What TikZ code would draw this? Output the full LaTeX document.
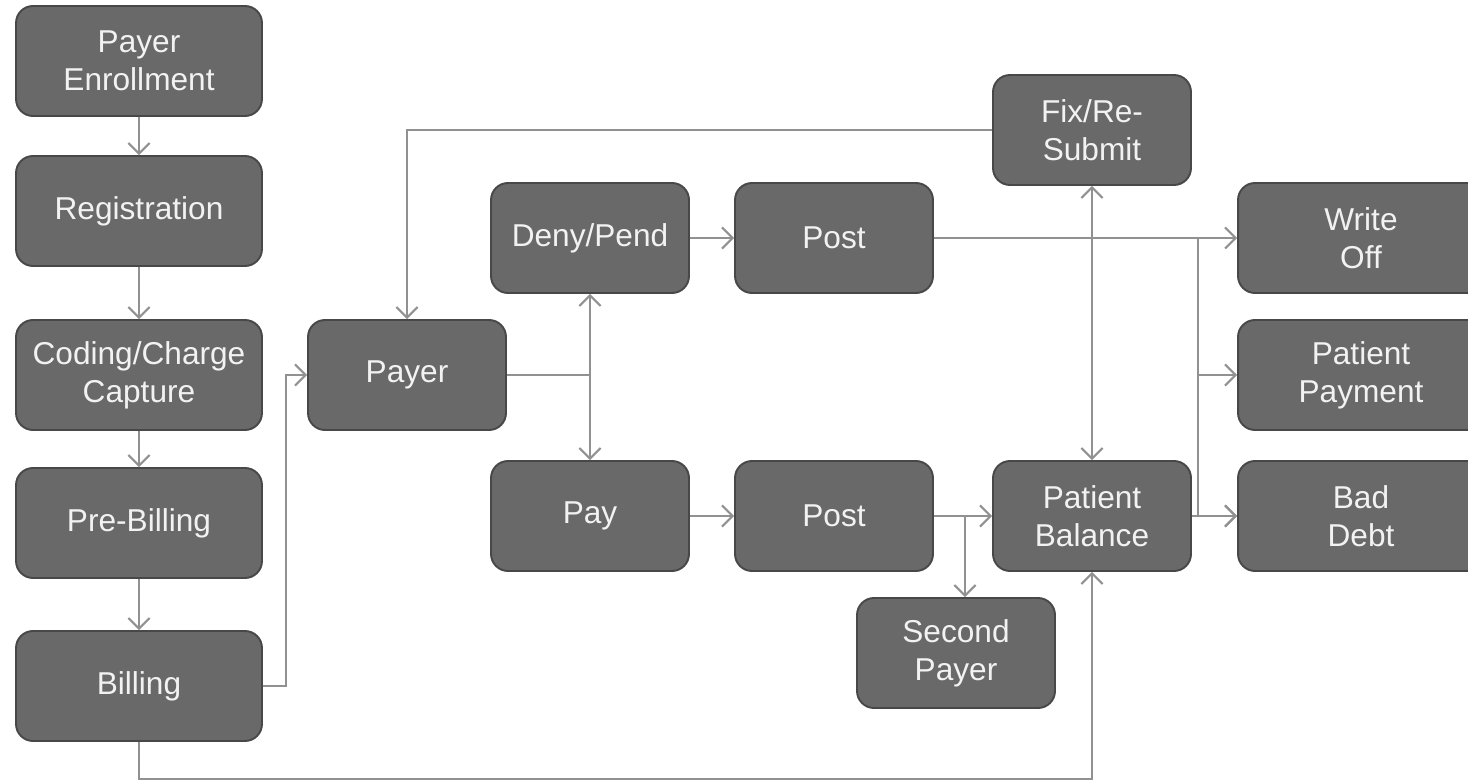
\documentclass[tikz,border=0pt]{standalone}
\usepackage{fontspec}
\setmainfont{Liberation Sans}
\usetikzlibrary{arrows.meta}
\definecolor{boxfill}{RGB}{105,105,105}
\definecolor{boxedge}{RGB}{72,72,72}
\definecolor{boxtext}{RGB}{242,242,242}
\definecolor{linegray}{RGB}{145,145,145}

\begin{document}
\begin{tikzpicture}[x=0.02cm, y=-0.02cm,
        box/.style={draw=boxedge, fill=boxfill, text=boxtext, line width=1.1pt,
            rounded corners=0.34cm, minimum width=3.96cm, minimum height=2.2cm,
            align=center, font=\fontsize{18}{21.5}\selectfont},
        wide/.style={box, minimum width=4.92cm},
        link/.style={draw=linegray, line width=1.2pt},
        >={Straight Barb[length=6pt,width=12pt]}]
        \useasboundingbox (0,0) rectangle (1468,783);

        \node[wide] (enroll)  at (139, 61)  {Payer\\Enrollment};
        \node[wide] (reg)     at (139, 211) {Registration};
        \node[wide] (coding)  at (139, 375) {Coding/Charge\\Capture};
        \node[wide] (prebill) at (139, 523) {Pre-Billing};
        \node[wide] (billing) at (139, 686) {Billing};

        \node[box] (payer)  at (407, 375)  {Payer};
        \node[box] (deny)   at (590, 238)  {Deny/Pend};
        \node[box] (pay)    at (590, 516)  {Pay};
        \node[box] (post)   at (834, 238)  {Post};
        \node[box] (postb)  at (834, 516)  {Post};
        \node[box] (second) at (956, 653)  {Second\\Payer};
        \node[box] (fix)    at (1092, 130) {Fix/Re-\\Submit};
        \node[box] (bal)    at (1092, 516) {Patient\\Balance};

        \node[wide] (writeoff) at (1361, 238) {Write\\Off};
        \node[wide] (ptpay)    at (1361, 375) {Patient\\Payment};
        \node[wide] (baddebt)  at (1361, 516) {Bad\\Debt};

        \coordinate (fork)  at (590, 375);
        \coordinate (split) at (1198, 238);
        \coordinate (drop)  at (965, 516);

        \draw[link, ->] (enroll) -- (reg);
        \draw[link, ->] (reg) -- (coding);
        \draw[link, ->] (coding) -- (prebill);
        \draw[link, ->] (prebill) -- (billing);
        \draw[link, ->] (billing.east) -- ++(23,0) |- (payer.west);
        \draw[link, ->] (billing.south) -- ++(0,37) -| (bal.south);

        \draw[link] (payer.east) -- (fork);
        \draw[link, <->] (deny.south) -- (pay.north);
        \draw[link, ->] (deny) -- (post);
        \draw[link, ->] (pay) -- (postb);

        \draw[link, ->] (post.east) -- (writeoff.west);
        \draw[link, ->] (split) |- (ptpay.west);
        \draw[link, ->] (split) |- (baddebt.west);
        \draw[link, ->] (bal.east) -- (baddebt.west);

        \draw[link, ->] (postb.east) -- (bal.west);
        \draw[link, ->] (drop) -- (drop |- second.north);

        \draw[link, ->] (fix.west) -| (payer.north);
        \draw[link, <->] (fix.south) -- (bal.north);
    \end{tikzpicture}
\end{document}
